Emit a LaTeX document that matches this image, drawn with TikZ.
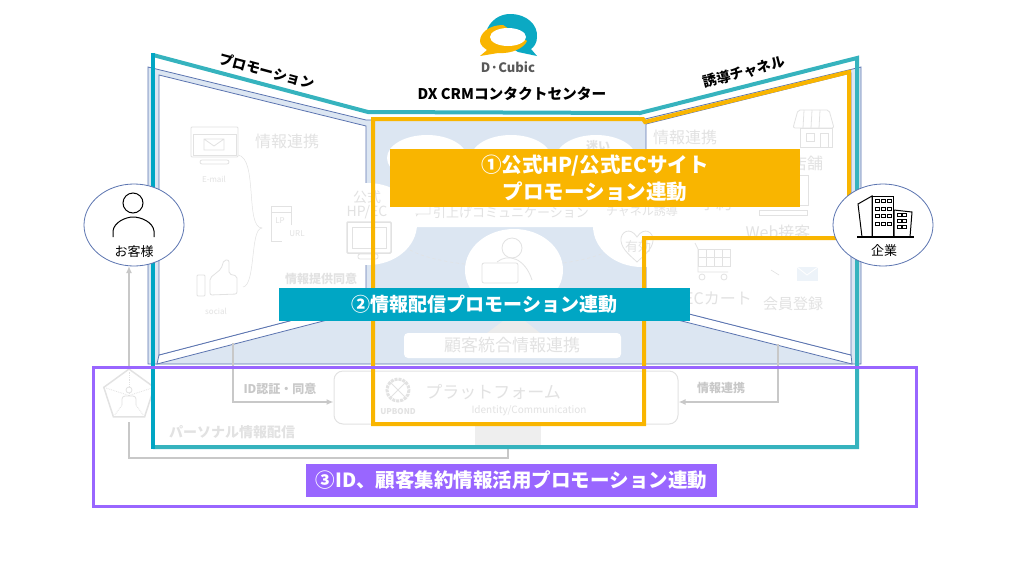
\documentclass[tikz,border=0pt]{standalone}
\usepackage{fontspec}
\setmainfont{Noto Sans CJK JP}
\usetikzlibrary{arrows.meta, shapes.geometric, calc}

\definecolor{wallblue}{HTML}{DCE6F2}
\definecolor{lineblue}{HTML}{5B74B0}
\definecolor{frameteal}{HTML}{36B3BE}
\definecolor{labelteal}{HTML}{00A6C4}
\definecolor{labelorange}{HTML}{F9B500}
\definecolor{labelpurple}{HTML}{9966FF}
\definecolor{fadegray}{HTML}{E2E2E2}
\definecolor{linkgray}{HTML}{C8C8C8}

\tikzset{
    wallline/.style={draw=lineblue, line width=0.8pt},
    icon/.style={draw=fadegray, line width=0.8pt},
    fadetext/.style={text=fadegray, inner sep=0pt, font=\fontsize{16}{19}\selectfont},
    fadebold/.style={text=fadegray, inner sep=0pt, font=\fontsize{12}{14}\selectfont\bfseries},
    fadesmall/.style={text=fadegray, inner sep=0pt, font=\fontsize{8}{10}\selectfont},
    whiteoval/.style={ellipse, fill=white, inner sep=0pt, minimum width=98pt, minimum height=82pt},
    topoval/.style={ellipse, fill=white, inner sep=0pt, minimum width=80pt, minimum height=46pt},
    whitebox/.style={rectangle, rounded corners=4pt, fill=white, inner sep=0pt},
    graylink/.style={draw=linkgray, line width=1.5pt},
    rolecircle/.style={ellipse, draw=lineblue, fill=white, line width=0.8pt, inner sep=0pt, minimum width=100pt, minimum height=82pt},
    roletext/.style={inner sep=0pt, font=\fontsize{13}{15}\selectfont},
    headtext/.style={inner sep=0pt, font=\fontsize{14}{17}\selectfont\bfseries},
    banner/.style={rectangle, inner sep=0pt, text=white, align=center, font=\fontsize{19.5}{25}\selectfont\bfseries}
}

\begin{document}
\begin{tikzpicture}[x=1pt, y=-1pt]
    \useasboundingbox (0,0) rectangle (1024,576);

    % Room behind everything
    \fill[wallblue] (148,67) -- (366,120) -- (641,120) -- (861,67) -- (861,364) -- (148,364) -- cycle;
    \draw[wallline] (148,364) -- (148,67) -- (366,120) -- (641,120) -- (861,67) -- (861,364) -- cycle;

    % Left wall
    \draw[wallline, fill=white] (157,364) -- (366,310) -- (366,301) -- (159,355) -- cycle;
    \draw[wallline, fill=white] (159,75) -- (366,126) -- (366,301) -- (159,355) -- cycle;

    % Right wall
    \draw[wallline, fill=white] (852,364) -- (646,312) -- (646,303) -- (851,355) -- cycle;
    \draw[wallline, fill=white] (851,73) -- (646,124) -- (646,303) -- (851,355) -- cycle;

    % Left wall contents
    \node[fadetext] (leftinfo) at (287,141) {情報連携};
    \draw[icon, rounded corners=1pt] (191,127) rectangle (238,157);
    \draw[icon] (193,134) rectangle (236,155);
    \draw[icon] (204,139) rectangle (224,150) (204,139) -- (214,146) -- (224,139);
    \draw[icon, rounded corners=2pt] (200,160) rectangle (229,164);
    \node[fadesmall] (mailtext) at (214,179) {E-mail};
    \draw[icon] (291,225) -- (291,206) -- (271,206) -- (271,241) -- (282,241);
    \draw[icon] (271,212) -- (291,212);
    \node[fadesmall] (lptext) at (280,221) {LP};
    \node[fadesmall] (urltext) at (297,234) {URL};
    \draw[icon, rounded corners=1pt] (197,275) rectangle (205,296);
    \draw[icon, rounded corners=2pt] (210,278) -- (221,269) -- (224,260) -- (229,260) -- (229,274) -- (237,276) -- (237,294) -- (210,295) -- cycle;
    \node[fadesmall] (socialtext) at (216,311) {social};
    \coordinate (mailend) at (238,155);
    \coordinate (socialend) at (243,287);
    \coordinate (phoneend) at (262,228);
    \draw[draw=fadegray, line width=0.5pt] (mailend) .. controls (258,158) and (245,228) .. (phoneend);
    \draw[draw=fadegray, line width=0.5pt] (socialend) .. controls (256,285) and (250,228) .. (phoneend);
    \node[fadebold] (consent) at (321,279) {情報提供同意};

    % Right wall contents
    \node[fadetext] (rightinfo) at (685,137) {情報連携};
    \draw[icon] (800,128) rectangle (832,147) (806,133) rectangle (814,141) (820,133) -- (820,147) (828,133) -- (820,133) (828,133) -- (828,147);
    \draw[icon, rounded corners=2pt] (798,110) -- (829,110) -- (834,128) -- (793,128) -- cycle;
    \foreach \k in {804,812,820} \draw[icon] (\k,110) -- (\k-1,128);
    \node[fadetext] (shoptext) at (807,163) {店舗};
    \draw[icon] (771,175) rectangle (808,205);
    \draw[icon] (759,210) rectangle (807,215);
    \node[fadetext] (reserve) at (716,203) {予約};
    \node[fadetext] (webtext) at (778,232) {Web接客};
    \draw[icon] (695,243) -- (698,249) -- (698,272) -- (728,272);
    \draw[icon] (698,249) rectangle (730,266);
    \foreach \k in {706,714,722} \draw[icon] (\k,249) -- (\k,266);
    \draw[icon] (698,257) -- (730,257);
    \draw[icon] (702,277) circle (3) (724,277) circle (3);
    \node[fadetext] (carttext) at (718,298) {ECカート};
    \fill[wallblue!50] (797,267) rectangle (818,281);
    \draw[white, line width=0.8pt] (797,267) -- (807,275) -- (818,267);
    \draw[icon, line width=0.6pt] (771,270) -- (779,275);
    \node[fadetext, font=\fontsize{15}{18}\selectfont] (member) at (793,304) {会員登録};

    % Back wall contents
    \node[topoval] (ovalone) at (427,158) {};
    \node[topoval] (ovaltwo) at (511,158) {};
    \node[topoval] (ovalthree) at (596,158) {};
    \node[fadebold] (doubttext) at (598,146) {迷い};
    \node[whitebox, minimum width=204pt, minimum height=50pt] (upsell) at (505,202) {};
    \draw[icon] (407,196) rectangle (430,214) (412,214) -- (412,220) -- (418,214);
    \node[fadetext, font=\fontsize{13}{15}\selectfont] (upselltext) at (511,213) {引上げコミュニケーション};
    \draw[fadegray, line width=0.5pt, dashed] (410,250) .. controls (450,272) and (570,272) .. (610,250);
    \node[whiteoval] (hpoval) at (368,224) {};
    \node[fadetext, font=\fontsize{14}{16}\selectfont] (hpone) at (367,197) {公式};
    \node[fadetext, font=\fontsize{14}{16}\selectfont] (hptwo) at (367,212) {HP/EC};
    \draw[icon, line width=1.5pt, rounded corners=1pt] (347,222) rectangle (391,253);
    \draw[icon] (352,227) rectangle (386,248);
    \draw[icon, rounded corners=2pt] (358,254) rectangle (378,259);
    \node[whiteoval] (channeloval) at (642,226) {};
    \node[fadetext, font=\fontsize{12}{14}\selectfont] (channeltext) at (642,211) {チャネル誘導};
    \draw[icon] (637,237) .. controls (630,226) and (620,232) .. (621,241) .. controls (622,250) and (632,257) .. (637,262) .. controls (642,257) and (652,250) .. (653,241) .. controls (654,232) and (644,226) .. (637,237) -- cycle;
    \node[fadetext, font=\fontsize{13}{15}\selectfont] (validtext) at (638,247) {有効};
    \node[whiteoval] (agentoval) at (514,270) {};
    \draw[icon] (512,248) circle (10);
    \draw[icon] (497,262) .. controls (508,253) and (525,258) .. (532,280);
    \draw[icon, fill=white, rounded corners=2pt] (482,263) rectangle (518,283);

    % Customer data block
    \fill[fadegray!70] (487,333) -- (540,333) -- (525,321) -- (503,321) -- cycle;
    \node[whitebox, minimum width=217pt, minimum height=25pt] (datalink) at (512.5,345.5) {};
    \node[fadetext, font=\fontsize{17}{20}\selectfont] (datatext) at (512,345) {顧客統合情報連携};

    % Personal data and platform
    \node[regular polygon, regular polygon sides=5, draw=fadegray, fill=white, line width=1.5pt, inner sep=0pt, minimum size=53pt] (pentagon) at (129,395.5) {};
    \foreach \k in {18,90,162,234,306}
        \draw[icon, densely dotted] (pentagon.center) -- ++(\k:24pt);
    \draw[icon, fill=white] (129,390) circle (3);
    \draw[icon, fill=white, rounded corners=3pt] (122,405) -- (122,396) -- (136,396) -- (136,405);
    \node[fadetext, font=\fontsize{14}{17}\selectfont\bfseries] (personal) at (232,432) {パーソナル情報配信};
    \node[rectangle, fill=fadegray!60, inner sep=0pt, minimum width=66pt, minimum height=28pt] (dbblock) at (508,431) {};
    \node[rectangle, rounded corners=9pt, draw=fadegray, fill=white, line width=1pt, inner sep=0pt, minimum width=344pt, minimum height=53pt] (platform) at (506,397.5) {};
    \node[fadetext, font=\fontsize{17}{20}\selectfont] (platformtext) at (493,392) {プラットフォーム};
    \node[fadetext, font=\fontsize{10}{12}\selectfont] (identity) at (529,411) {Identity/Communication};
    \draw[draw=fadegray, line width=3pt, densely dotted] (398,390) circle (11);
    \draw[draw=fadegray, line width=1pt] (390,382) -- (406,398) (406,382) -- (390,398);
    \node[fadesmall, font=\fontsize{8}{10}\selectfont\bfseries] (upbond) at (398,412) {UPBOND};

    % Gray links
    \coordinate (leftwallout) at (233,343);
    \coordinate (rightwallout) at (778,344);
    \coordinate (pentagonout) at (129,422);
    \coordinate (linkcorner) at (508,458);
    \draw[graylink, -{Latex[length=7pt,width=6pt]}] (leftwallout) |- ([yshift=-4.5pt]platform.west);
    \draw[graylink, -{Latex[length=7pt,width=6pt]}] (rightwallout) |- ([yshift=-4.5pt]platform.east);
    \draw[graylink, -{Latex[length=7pt,width=6pt]}] (pentagon.north) -- (pentagon.north |- 0,266);
    \draw[graylink] (pentagonout) |- (linkcorner) -- (dbblock.south);
    \node[fadebold, text=linkgray] (idtext) at (280,389) {ID認証・同意};
    \node[fadebold, text=linkgray] (infotext) at (721,388) {情報連携};

    % Teal frame
    \draw[frameteal, line width=4pt, line join=miter] (153,55) -- (368,112) -- (640,113) -- (857,58) -- (857,447) -- (153,447);
    \draw[labelteal, line width=4pt] (153,53) -- (153,449);

    % Orange frame
    \draw[labelorange, line width=4pt, line join=miter] (373,424) -- (373,119) -- (643,119) -- (645,122) -- (849,72) -- (849,238) -- (644,238) -- (644,424) -- cycle;

    % Purple frame
    \draw[labelpurple, line width=3pt] (93,367) rectangle (916,506);

    % Customer
    \node[rolecircle] (customer) at (134,225) {};
    \draw[line width=1pt] (133,203) circle (10);
    \draw[line width=1pt] (113,237) -- (113,231) .. controls (114,222) and (126,217) .. (133,217) .. controls (141,217) and (153,222) .. (154,231) -- (154,237);
    \node[roletext] (customertext) at (134,252) {お客様};

    % Company
    \node[rolecircle] (company) at (883,225) {};
    \draw[line width=1pt, fill=white] (862,237) -- (858,204) -- (872,196) -- (872,237);
    \draw[line width=1pt, fill=white] (872,196) rectangle (893,237);
    \draw[line width=1pt, fill=white] (894,210) -- (912,212) -- (910,237) -- (894,237) -- cycle;
    \foreach \r in {199,207,214,222}
        \foreach \c in {875,881,887} \draw[line width=0.6pt] (\c,\r) rectangle ++(4,3);
    \foreach \r in {213,219,225}
        \foreach \c in {897,902} \draw[line width=0.6pt] (\c,\r) rectangle ++(4,3);
    \draw[line width=1.2pt] (857,237) -- (914,237);
    \node[roletext] (companytext) at (884,251) {企業};

    % Logo
    \fill[labelteal!80!frameteal] (486,32) .. controls (490,20) and (500,14) .. (510,14) .. controls (527,14) and (538,25) .. (537,37) .. controls (537,43) and (534,47) .. (531,49) -- (537,56) -- (518,52) -- cycle;
    \fill[labelorange] (503,25) .. controls (489,25) and (480,33) .. (480,41) .. controls (480,45) and (484,48) .. (487,50) -- (480,56) -- (498,53) .. controls (512,54) and (524,48) .. (527,41) -- cycle;
    \fill[white] (508,37) ellipse [x radius=18, y radius=9];
    \node[inner sep=0pt, text=black!65, font=\fontsize{13}{15}\selectfont\bfseries] (logotext) at (508,67) {D·Cubic};

    % Headings
    \node[headtext, font=\fontsize{14.7}{17}\selectfont\bfseries] (centerhead) at (512,94) {DX CRMコンタクトセンター};
    \node[headtext, rotate=-15] (lefthead) at (267,71) {プロモーション};
    \node[headtext, rotate=15] (righthead) at (744,72) {誘導チャネル};

    % Banners
    \node[banner, fill=labelorange, font=\fontsize{20.5}{27}\selectfont\bfseries, minimum width=410pt, minimum height=58pt] (bannerone) at (595,178) {①公式HP/公式ECサイト\\プロモーション連動};
    \node[banner, fill=labelteal, font=\fontsize{19}{25}\selectfont\bfseries, minimum width=411pt, minimum height=33pt] (bannertwo) at (484.5,304.5) {②情報配信プロモーション連動};
    \node[banner, fill=labelpurple, minimum width=411pt, minimum height=33pt] (bannerthree) at (511.5,480.5) {③ID、顧客集約情報活用プロモーション連動};
\end{tikzpicture}
\end{document}
